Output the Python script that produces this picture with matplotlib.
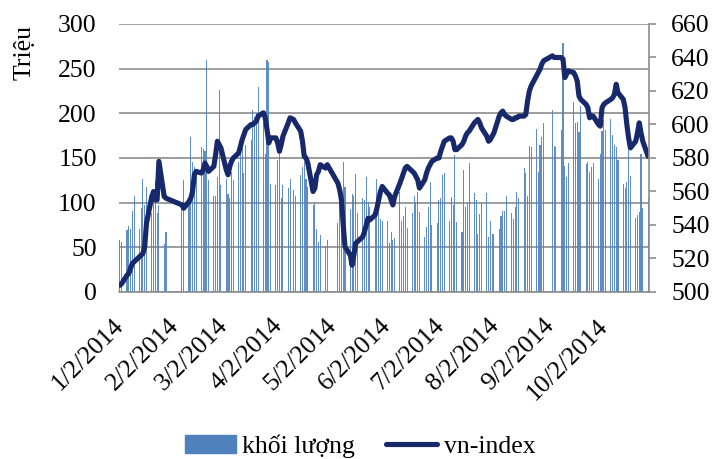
import numpy as np
import pandas as pd
import matplotlib
matplotlib.use("Agg")
import matplotlib.pyplot as plt
from matplotlib.patches import Patch
from matplotlib.lines import Line2D

# khối lượng (triệu cp) theo ngày giao dịch, chia theo tháng
vol_jan = [58, 56, 69, 74, 70, 91, 107, 71, 94, 127, 97, 117, 88, 110, 125, 88, 97, 54, 67]
vol_feb = [95, 125, 101, 174, 146, 140, 136, 162, 160, 158, 260, 125, 108, 108, 129, 226, 120]
vol_mar = [127, 110, 105, 134, 125, 146, 157, 168, 133, 164, 170, 204, 196, 200, 230,
           190, 155, 260, 258, 121, 120]
vol_apr = [148, 155, 105, 120, 116, 127, 114, 107, 131, 140, 146, 127, 118, 97, 100,
           71, 56, 64, 52, 58]
vol_may = [77, 110, 95, 146, 118, 93, 110, 108, 132, 88, 105, 103, 129, 101, 95,
           85, 127, 93, 82, 80]
vol_jun = [80, 55, 67, 58, 60, 112, 80, 85, 95, 72, 88, 108, 101, 112, 90, 62, 73, 95, 123, 75, 77]
vol_jul = [103, 105, 131, 133, 80, 106, 97, 153, 78, 67, 137, 95, 100, 144, 111, 103, 65,
           87, 100, 111, 62, 80, 65]
vol_aug = [65, 71, 85, 91, 91, 108, 88, 82, 95, 112, 105, 139, 133, 107, 163, 162, 182,
           134, 164, 173, 189]
vol_sep = [204, 163, 162, 181, 279, 141, 129, 144, 213, 189, 190, 179, 208, 143, 145,
           134, 140, 144, 127, 155]
vol_oct = [180, 192, 181, 194, 176, 164, 162, 148, 121, 116, 123, 159, 130, 83, 86, 90,
           155, 94, 105]

# vn-index
idx_jan = [504, 505, 510, 511, 514, 517, 518, 521, 522, 523, 527, 541, 557, 560, 555, 555,
           578, 557, 556]
idx_feb = [552, 550, 554, 556, 560, 570, 572, 571, 573, 577, 575, 572, 575, 582, 590, 588, 586]
idx_mar = [573, 570, 575, 578, 580, 583, 587, 591, 594, 597, 600, 600, 601, 602, 605,
           607, 604, 597, 589, 592, 592]
idx_apr = [589, 584, 588, 593, 601, 604, 603, 601, 596, 590, 581, 580, 577, 560, 562,
           570, 572, 576, 574, 576]
idx_may = [565, 561, 555, 540, 527, 522, 516, 522, 529, 530, 533, 536, 540, 544, 543,
           546, 550, 555, 560, 563]
idx_jun = [559, 558, 555, 552, 557, 565, 568, 571, 574, 575, 572, 571, 569, 567, 562,
           567, 571, 574, 576, 578, 580]
idx_jul = [580, 584, 587, 590, 592, 592, 590, 585, 585, 588, 590, 593, 595, 596, 601,
           602, 603, 601, 598, 593, 590, 591, 593]
idx_aug = [595, 605, 607, 608, 606, 605, 603, 603, 604, 604, 605, 605, 606, 614, 620,
           623, 629, 631, 633, 636, 638]
idx_sep = [641, 640, 640, 640, 639, 628, 630, 632, 631, 629, 626, 617, 615, 612, 610,
           604, 605, 605, 600, 599]
idx_oct = [610, 612, 613, 615, 616, 618, 624, 619, 615, 610, 600, 592, 586, 590, 595,
           601, 595, 590, 581]

# ngày nghỉ lễ (Tết, Giỗ tổ, 30/4, 2/9)
holidays = ["2014-01-29", "2014-01-30", "2014-01-31", "2014-02-03", "2014-02-04",
            "2014-02-05", "2014-04-09", "2014-04-30", "2014-05-01", "2014-05-02",
            "2014-09-01", "2014-09-02"]

tick_dates = ["2014-01-02", "2014-02-02", "2014-03-02", "2014-04-02", "2014-05-02",
              "2014-06-02", "2014-07-02", "2014-08-02", "2014-09-02", "2014-10-02"]

volume = vol_jan + vol_feb + vol_mar + vol_apr + vol_may + vol_jun + vol_jul + vol_aug + vol_sep + vol_oct
vnindex = idx_jan + idx_feb + idx_mar + idx_apr + idx_may + idx_jun + idx_jul + idx_aug + idx_sep + idx_oct

days = pd.bdate_range("2014-01-02", "2014-10-27")
days = days[~days.isin(pd.to_datetime(holidays))]

FONT = ["Liberation Serif", "DejaVu Serif"]
FS = 18.5
plt.rcParams["font.family"] = FONT
plt.rcParams["font.size"] = FS

BAR_C = "#4f81bd"
LINE_C = "#17296b"
GRID_C = "#8c8c8c"
LW = 3.7

fig = plt.figure(figsize=(7.12, 4.59), dpi=100)
ax = fig.add_axes([119 / 712, 1 - 292 / 459, 530 / 712, 268 / 459])
ax2 = ax.twinx()

ax.bar(days, volume, width=0.6, color=BAR_C, alpha=0.9, linewidth=0)
ax2.plot(days, vnindex, color=LINE_C, lw=LW, solid_joinstyle="round", solid_capstyle="round")

ax.set_ylim(0, 300)
ax.set_yticks(np.arange(0, 301, 50))
ax2.set_ylim(500, 660)
ax2.set_yticks(np.arange(500, 661, 20))

ax.set_xlim(days[0] - pd.Timedelta(hours=12), days[-1] + pd.Timedelta(hours=12))
td = pd.to_datetime(tick_dates)
ax.set_xticks(td)
ax.set_xticklabels([f"{d.month}/{d.day}/{d.year}" for d in td], rotation=45,
                   ha="right", va="center", rotation_mode="anchor")

ax.set_axisbelow(True)
ax.yaxis.grid(True, color=GRID_C, lw=1.2)
for s in ["top", "left", "right"]:
    ax.spines[s].set_visible(False)
ax.spines["bottom"].set_color(GRID_C)
ax.spines["bottom"].set_linewidth(1.2)
for s in ["top", "left", "bottom"]:
    ax2.spines[s].set_visible(False)
ax2.spines["right"].set_color(GRID_C)
ax2.spines["right"].set_linewidth(1.2)

ax.tick_params(axis="y", length=0, pad=16)
ax.tick_params(axis="x", length=0, pad=22)
ax2.tick_params(axis="y", length=5, width=1.2, color=GRID_C, pad=11)

fig.text(25 / 712, 1 - 25 / 459, "Triệu", rotation=90, ha="center", va="top")

handles = [Patch(color=BAR_C), Line2D([], [], color=LINE_C, lw=LW, solid_capstyle="round")]
fig.legend(handles, ["khối lượng", "vn-index"], loc="center",
           bbox_to_anchor=(360 / 712, 1 - 446 / 459), ncol=2, frameon=False,
           handlelength=2.0, handletextpad=0.25, columnspacing=1.2)

fig.savefig("out.png", dpi=100)
